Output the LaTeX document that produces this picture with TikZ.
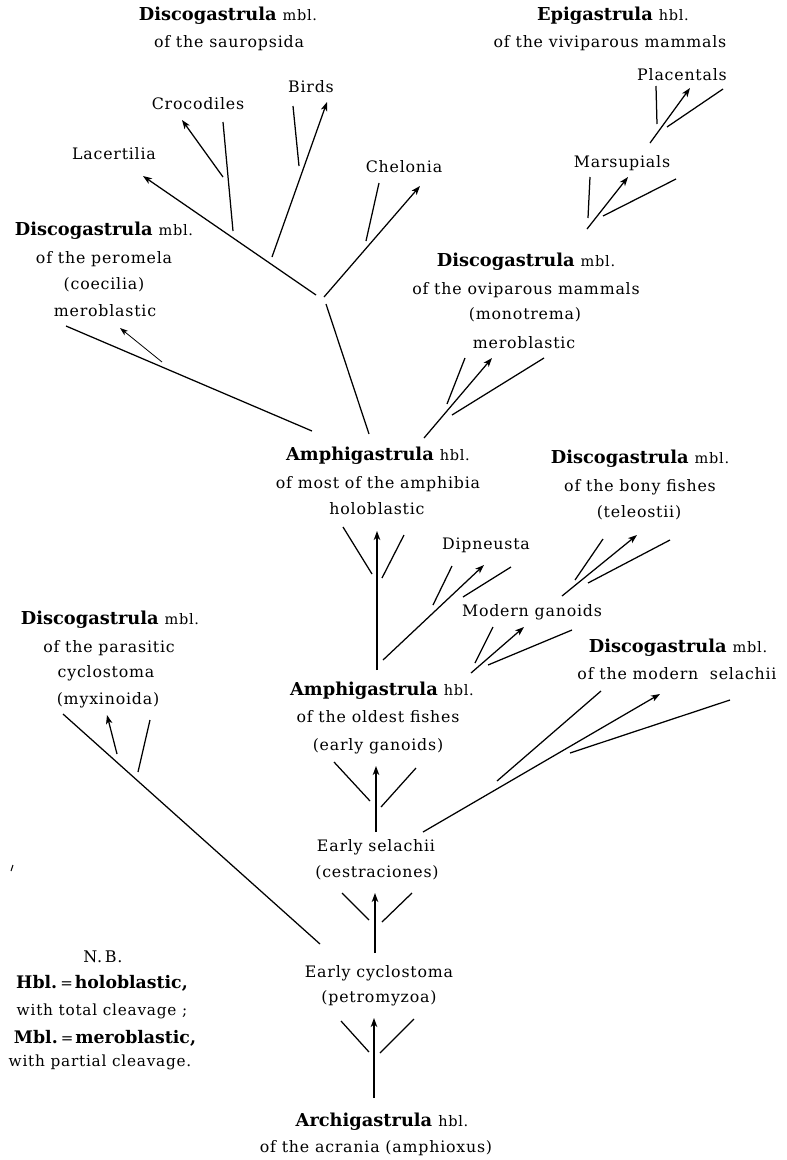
\documentclass[tikz,border=0pt]{standalone}
\usepackage{fontspec}
\setmainfont{DejaVu Serif}
\newfontfamily\rmsp{DejaVu Serif}[LetterSpace=5]
\usetikzlibrary{arrows.meta}
\newcommand{\ttl}[2]{{\fontsize{17.8}{20}\selectfont\bfseries #1}\hspace{6pt}{\rmsp\fontsize{14.5}{16}\selectfont #2}}
\newcommand{\lgb}[1]{{\fontsize{17.3}{19}\selectfont\bfseries #1}}
\begin{document}
\begin{tikzpicture}[x=1pt,y=-1pt,
  sub/.style={inner sep=0pt,font=\rmsp\fontsize{15.8}{18}\selectfont},
  hd/.style={inner sep=0pt},
  lg/.style={inner sep=0pt,font=\rmsp\fontsize{15.3}{17}\selectfont},
  br/.style={line width=1.25pt},
  arr/.style={line width=1.25pt,-{Stealth[length=9pt,width=6.5pt,inset=2.5pt]}},
  tarr/.style={line width=0.8pt,-{Stealth[length=8pt,width=5.5pt,inset=2pt]}}]
\fill[white] (0,0) rectangle (787,1160);
\useasboundingbox (0,0) rectangle (787,1160);

% ---------- labels ----------
\node[hd] (t1a) at (228,16) {\ttl{Discogastrula}{mbl.}};
\node[sub] (t1b) at (229,43) {of the sauropsida};
\node[sub] (birds) at (311,87) {Birds};
\node[sub] (croc) at (198,104) {Crocodiles};
\node[sub] (lac) at (114,154) {Lacertilia};
\node[sub] (chel) at (404,167) {Chelonia};

\node[hd] (t2a) at (613,16) {\ttl{Epigastrula}{hbl.}};
\node[sub] (t2b) at (610,43) {of the viviparous mammals};
\node[sub] (plac) at (682,75) {Placentals};
\node[sub] (mars) at (622,163) {Marsupials};

\node[hd] (t3a) at (104,231) {\ttl{Discogastrula}{mbl.}};
\node[sub] (t3b) at (104,259) {of the peromela};
\node[sub] (t3c) at (104,285) {(coecilia)};
\node[sub] (t3d) at (105,311) {meroblastic};

\node[hd] (t4a) at (526,262) {\ttl{Discogastrula}{mbl.}};
\node[sub] (t4b) at (526,290) {of the oviparous mammals};
\node[sub] (t4c) at (525,315) {(monotrema)};
\node[sub] (t4d) at (524,343) {meroblastic};

\node[hd] (t5a) at (378,456) {\ttl{Amphigastrula}{hbl.}};
\node[sub] (t5b) at (378,484) {of most of the amphibia};
\node[sub] (t5c) at (377,509) {holoblastic};
\node[sub] (dipn) at (486,545) {Dipneusta};

\node[hd] (t6a) at (640,459) {\ttl{Discogastrula}{mbl.}};
\node[sub] (t6b) at (640,487) {of the bony fishes};
\node[sub] (t6c) at (639,513) {(teleostii)};
\node[sub] (mgan) at (532,612) {Modern ganoids};

\node[hd] (t7a) at (678,648) {\ttl{Discogastrula}{mbl.}};
\node[sub] (t7b) at (677,674) {of the modern\ \ selachii};

\node[hd] (t8a) at (110,620) {\ttl{Discogastrula}{mbl.}};
\node[sub] (t8b) at (109,648) {of the parasitic};
\node[sub] (t8c) at (106,673) {cyclostoma};
\node[sub] (t8d) at (108,700) {(myxinoida)};

\node[hd] (t9a) at (382,691) {\ttl{Amphigastrula}{hbl.}};
\node[sub] (t9b) at (378,717) {of the oldest fishes};
\node[sub] (t9c) at (378,746) {(early ganoids)};

\node[sub] (es1) at (376,847) {Early selachii};
\node[sub] (es2) at (377,873) {(cestraciones)};
\node[sub] (ec1) at (379,973) {Early cyclostoma};
\node[sub] (ec2) at (379,998) {(petromyzoa)};
\node[hd] (ar1) at (382,1122) {\ttl{Archigastrula}{hbl.}};
\node[sub] (ar2) at (376,1148) {of the acrania (amphioxus)};

\node[lg,font=\rmsp\fontsize{16}{18}\selectfont] (nb) at (103,957) {N.\,B.};
\node[hd] (l1) at (102,983) {\lgb{Hbl.}\kern3pt{\fontsize{15}{17}\selectfont=}\kern2pt\lgb{holoblastic,}};
\node[lg] (l2) at (102,1011) {with total cleavage ;};
\node[hd] (l3) at (105,1038) {\lgb{Mbl.}\kern3pt{\fontsize{15}{17}\selectfont=}\kern2pt\lgb{meroblastic,}};
\node[lg] (l4) at (100,1062) {with partial cleavage.};

% ---------- branch points ----------
\coordinate (sJ1) at (316,295); \coordinate (sLac) at (143,176);
\coordinate (sC0) at (223,177); \coordinate (sC1) at (182,120);
\coordinate (sC2) at (223,122); \coordinate (sC3) at (233,231);
\coordinate (sB2) at (293,106); \coordinate (sB3) at (299,166);
\coordinate (sB0) at (272,257); \coordinate (sB1) at (327,102);
\coordinate (sH2) at (379,183); \coordinate (sH3) at (366,241);
\coordinate (sH0) at (324,297); \coordinate (sH1) at (420,186);
\coordinate (sS0) at (326,304); \coordinate (sS1) at (369,434);

\coordinate (pL0) at (66,326); \coordinate (pL1) at (312,431);
\coordinate (pA0) at (162,362); \coordinate (pA1) at (120,328);

\coordinate (eP0) at (656,86); \coordinate (eP1) at (657,124);
\coordinate (eP2) at (650,143); \coordinate (eP3) at (690,88);
\coordinate (eP4) at (667,127); \coordinate (eP5) at (723,89);
\coordinate (eM0) at (590,177); \coordinate (eM1) at (588,218);
\coordinate (eM2) at (587,229); \coordinate (eM3) at (628,177);
\coordinate (eM4) at (603,216); \coordinate (eM5) at (676,179);

\coordinate (mo0) at (465,358); \coordinate (mo1) at (447,404);
\coordinate (mo2) at (424,438); \coordinate (mo3) at (492,358);
\coordinate (mo4) at (452,415); \coordinate (mo5) at (544,358);

\coordinate (am0) at (343,527); \coordinate (am1) at (372,574);
\coordinate (am2) at (377,670); \coordinate (am3) at (377,531);
\coordinate (am4) at (404,535); \coordinate (am5) at (382,578);

\coordinate (dp0) at (452,566); \coordinate (dp1) at (433,605);
\coordinate (dp2) at (383,660); \coordinate (dp3) at (484,565);
\coordinate (dp4) at (511,567); \coordinate (dp5) at (463,597);

\coordinate (te0) at (603,539); \coordinate (te1) at (575,580);
\coordinate (te2) at (562,596); \coordinate (te3) at (637,535);
\coordinate (te4) at (670,540); \coordinate (te5) at (588,583);

\coordinate (mg0) at (493,627); \coordinate (mg1) at (475,663);
\coordinate (mg2) at (471,673); \coordinate (mg3) at (524,627);
\coordinate (mg4) at (572,630); \coordinate (mg5) at (488,665);

\coordinate (se0) at (601,691); \coordinate (se1) at (497,781);
\coordinate (se2) at (423,832); \coordinate (se3) at (660,694);
\coordinate (se4) at (730,700); \coordinate (se5) at (570,753);

\coordinate (of0) at (334,762); \coordinate (of1) at (370,801);
\coordinate (of2) at (376,832); \coordinate (of3) at (376,766);
\coordinate (of4) at (416,768); \coordinate (of5) at (381,807);

\coordinate (es0) at (342,893); \coordinate (esb) at (369,920);
\coordinate (esc) at (375,953); \coordinate (esd) at (375,893);
\coordinate (ese) at (412,893); \coordinate (esf) at (382,922);

\coordinate (mx0) at (63,714); \coordinate (mx1) at (320,944);
\coordinate (mx2) at (117,754); \coordinate (mx3) at (107,715);
\coordinate (mx4) at (150,720); \coordinate (mx5) at (138,772);

\coordinate (ea) at (341,1021); \coordinate (eb) at (369,1052);
\coordinate (ec) at (374,1098); \coordinate (ed) at (374,1018);
\coordinate (ee) at (414,1019); \coordinate (ef) at (380,1053);

\coordinate (sp0) at (11,871); \coordinate (sp1) at (13,865);

% ---------- connectors ----------
\draw[arr] (sJ1) -- (sLac);
\draw[arr] (sC0) -- (sC1);
\draw[br] (sC2) -- (sC3);
\draw[br] (sB2) -- (sB3);
\draw[arr] (sB0) -- (sB1);
\draw[br] (sH2) -- (sH3);
\draw[arr] (sH0) -- (sH1);
\draw[br] (sS0) -- (sS1);

\draw[br] (pL0) -- (pL1);
\draw[tarr] (pA0) -- (pA1);

\draw[br] (eP0) -- (eP1);
\draw[arr] (eP2) -- (eP3);
\draw[br] (eP4) -- (eP5);
\draw[br] (eM0) -- (eM1);
\draw[arr] (eM2) -- (eM3);
\draw[br] (eM4) -- (eM5);

\draw[br] (mo0) -- (mo1);
\draw[arr] (mo2) -- (mo3);
\draw[br] (mo4) -- (mo5);

\draw[br] (am0) -- (am1);
\draw[arr] (am2) -- (am3);
\draw[br] (am4) -- (am5);

\draw[br] (dp0) -- (dp1);
\draw[arr] (dp2) -- (dp3);
\draw[br] (dp4) -- (dp5);

\draw[br] (te0) -- (te1);
\draw[arr] (te2) -- (te3);
\draw[br] (te4) -- (te5);

\draw[br] (mg0) -- (mg1);
\draw[arr] (mg2) -- (mg3);
\draw[br] (mg4) -- (mg5);

\draw[br] (se0) -- (se1);
\draw[arr] (se2) -- (se3);
\draw[br] (se4) -- (se5);

\draw[br] (of0) -- (of1);
\draw[arr] (of2) -- (of3);
\draw[br] (of4) -- (of5);

\draw[br] (es0) -- (esb);
\draw[arr] (esc) -- (esd);
\draw[br] (ese) -- (esf);

\draw[br] (mx0) -- (mx1);
\draw[arr] (mx2) -- (mx3);
\draw[br] (mx4) -- (mx5);

\draw[br] (ea) -- (eb);
\draw[arr] (ec) -- (ed);
\draw[br] (ee) -- (ef);

\draw[line width=1pt] (sp0) -- (sp1);
\end{tikzpicture}
\end{document}
